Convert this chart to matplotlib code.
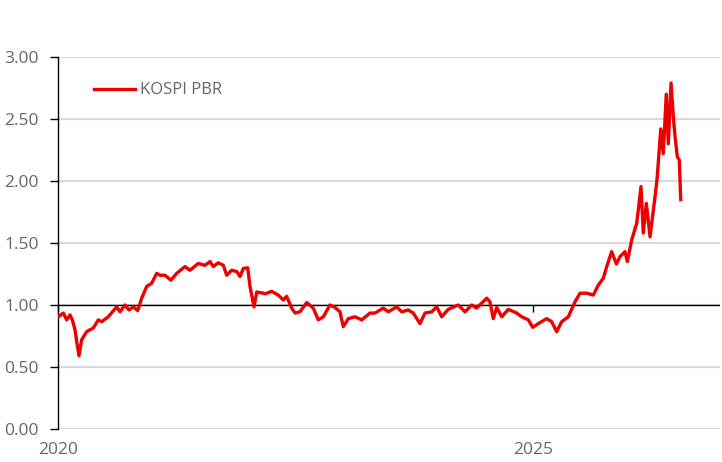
import numpy as np
import matplotlib.pyplot as plt

# years since start of 2020 and KOSPI PBR values
t = [0.003, 0.056, 0.092, 0.126, 0.151, 0.179, 0.197, 0.221, 0.249, 0.302,
     0.372, 0.424, 0.46, 0.529, 0.618, 0.653, 0.705, 0.747, 0.793, 0.839,
     0.881, 0.934, 0.986, 1.039, 1.074, 1.126, 1.189, 1.249, 1.337, 1.389,
     1.477, 1.547, 1.6, 1.635, 1.687, 1.74, 1.776, 1.828, 1.881, 1.916,
     1.951, 1.997, 2.021, 2.063, 2.092, 2.161, 2.179, 2.249, 2.319, 2.372,
     2.407, 2.46, 2.495, 2.547, 2.618, 2.687, 2.74, 2.793, 2.863, 2.916,
     2.968, 3.003, 3.056, 3.126, 3.197, 3.284, 3.337, 3.424, 3.477, 3.565,
     3.618, 3.687, 3.74, 3.811, 3.863, 3.934, 3.986, 4.039, 4.108, 4.214,
     4.284, 4.355, 4.407, 4.513, 4.547, 4.582, 4.618, 4.671, 4.74, 4.828,
     4.881, 4.951, 4.997, 5.056, 5.144, 5.197, 5.249, 5.302, 5.372, 5.442,
     5.495, 5.565, 5.635, 5.687, 5.74, 5.776, 5.828, 5.878, 5.916, 5.968,
     5.993, 6.039, 6.092, 6.137, 6.161, 6.193, 6.232, 6.289, 6.308, 6.345,
     6.371, 6.403, 6.424, 6.453, 6.48, 6.495, 6.519, 6.54, 6.555]
pbr = [0.905, 0.935, 0.88, 0.92, 0.88, 0.80, 0.705, 0.59, 0.72, 0.785,
       0.815, 0.88, 0.865, 0.905, 0.985, 0.945, 1.00, 0.96, 0.985, 0.955,
       1.055, 1.15, 1.175, 1.255, 1.24, 1.24, 1.20, 1.255, 1.31, 1.28,
       1.335, 1.32, 1.35, 1.31, 1.34, 1.32, 1.24, 1.28, 1.27, 1.23,
       1.295, 1.30, 1.15, 0.985, 1.105, 1.095, 1.09, 1.11, 1.08, 1.04,
       1.07, 0.975, 0.935, 0.945, 1.02, 0.975, 0.88, 0.905, 1.00, 0.98,
       0.945, 0.825, 0.89, 0.905, 0.88, 0.935, 0.935, 0.975, 0.945, 0.985,
       0.945, 0.96, 0.935, 0.85, 0.935, 0.945, 0.985, 0.905, 0.965, 1.00,
       0.945, 1.00, 0.975, 1.055, 1.025, 0.89, 0.98, 0.905, 0.965, 0.935,
       0.905, 0.88, 0.82, 0.85, 0.89, 0.865, 0.785, 0.865, 0.905, 1.025,
       1.095, 1.095, 1.08, 1.16, 1.215, 1.31, 1.43, 1.33, 1.39, 1.43,
       1.35, 1.525, 1.66, 1.955, 1.58, 1.82, 1.55, 1.90, 2.035, 2.42,
       2.22, 2.70, 2.30, 2.79, 2.49, 2.36, 2.195, 2.17, 1.85]
yticks = [0, 0.5, 1.0, 1.5, 2.0, 2.5, 3.0]
xticks = [0, 5]
xlabels = ['2020', '2025']

plt.rcParams['font.family'] = ['Open Sans', 'DejaVu Sans']

fig = plt.figure(figsize=(7.22, 4.62), dpi=100)
ax = fig.add_axes([58/722, 1-429/462, 662/722, 372/462])

ax.plot(t, pbr, color='#ee0000', lw=2.4, label='KOSPI PBR', zorder=3)
ax.axhline(1.0, color='black', lw=1, zorder=2.5)

ax.set_ylim(0, 3)
ax.set_xlim(0, 662/95)
ax.set_yticks(yticks)
ax.set_yticklabels(['%.2f' % v for v in yticks])
ax.grid(axis='y', color='#d9d9d9', lw=1.5)
ax.set_axisbelow(True)

for s in ['top', 'right', 'bottom']:
    ax.spines[s].set_visible(False)
ax.spines['left'].set_color('black')
ax.spines['left'].set_linewidth(1)

ax.tick_params(axis='y', direction='out', length=6, width=1, color='black',
               labelsize=12.5, labelcolor='#666666', pad=8)
ax.set_xticks(xticks)
ax.set_xticklabels(xlabels)
ax.tick_params(axis='x', length=0, labelsize=12.5, labelcolor='#666666', pad=9)

# horizontal axis crossing at 1.00: only the tick marks
sec = ax.secondary_xaxis(1/3)
sec.set_xticks(xticks)
sec.set_xticklabels(['', ''])
sec.spines['bottom'].set_visible(False)
sec.tick_params(direction='out', length=5, width=1, color='black')

ax.legend(loc='center left', bbox_to_anchor=(0.054, 0.91), frameon=False,
          fontsize=12, labelcolor='#666666', handlelength=2.5,
          handletextpad=0.3, borderpad=0, borderaxespad=0)

fig.savefig('out.png', dpi=100)
